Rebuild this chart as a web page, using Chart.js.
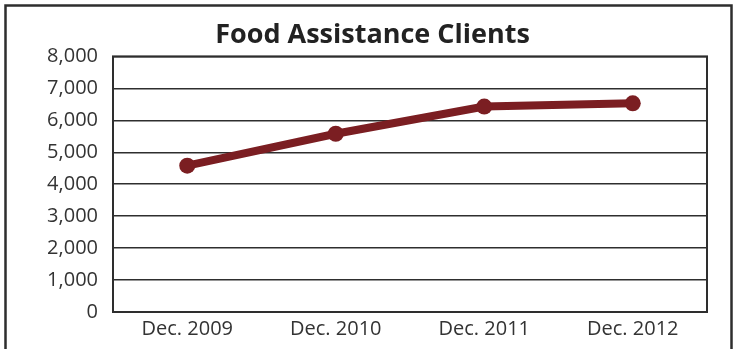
<!DOCTYPE html>
<html>
<head>
<meta charset="utf-8">
<script src="https://cdn.jsdelivr.net/npm/chart.js@4"></script>
<style>
  html, body { margin: 0; padding: 0; background: #fff; }
  #wrap { width: 735px; height: 349px; }
</style>
</head>
<body>
<div id="wrap"><canvas id="clientsChart"></canvas></div>
<script>
// Data
const periods = ['Dec. 2009', 'Dec. 2010', 'Dec. 2011', 'Dec. 2012'];
const clients = [4580, 5580, 6430, 6530];
const yTicks = [0, 1000, 2000, 3000, 4000, 5000, 6000, 7000, 8000];

const ink = '#2e2e2e';
const lineColor = '#7b1e22';

// outer frame + frame round the plot area
const framePlugin = {
  id: 'frames',
  beforeDraw: (chart) => {
    const c = chart.ctx;
    c.save();
    c.fillStyle = '#fff';
    c.fillRect(0, 0, chart.width, chart.height);
    c.strokeStyle = ink;
    c.lineWidth = 2.5;
    c.strokeRect(5.5, 5.5, 726, 400);
    c.restore();
  },
  afterDatasetsDraw: (chart) => {
    const a = chart.chartArea;
    const c = chart.ctx;
    c.save();
    c.strokeStyle = ink;
    c.lineWidth = 2;
    c.strokeRect(a.left, a.top, a.right - a.left, a.bottom - a.top);
    c.restore();
  }
};

const ctx = document.getElementById('clientsChart').getContext('2d');
const clientsChart = new Chart(ctx, {
  type: 'line',
  data: {
    labels: periods,
    datasets: [{
      label: 'Clients',
      data: clients,
      borderColor: lineColor,
      backgroundColor: lineColor,
      borderWidth: 8,
      pointRadius: 8,
      pointHoverRadius: 8,
      pointBackgroundColor: lineColor,
      pointBorderWidth: 0,
      tension: 0
    }]
  },
  options: {
    responsive: true,
    maintainAspectRatio: false,
    animation: false,
    layout: { padding: { left: 10, right: 0, top: 0, bottom: 0 } },
    plugins: {
      legend: { display: false },
      tooltip: { enabled: false },
      title: {
        display: true,
        text: 'Food Assistance Clients',
        color: '#222',
        font: { family: 'Open Sans', size: 27, weight: 'bold' },
        padding: { top: 19, bottom: 5 }
      }
    },
    scales: {
      x: {
        offset: true,
        grid: { display: false, drawTicks: false },
        border: { display: false },
        ticks: {
          color: '#333',
          font: { family: 'Open Sans', size: 20 },
          padding: 5,
          maxRotation: 0
        },
        afterFit: (scale) => { scale.height = 37; }
      },
      y: {
        min: 0,
        max: 8000,
        afterBuildTicks: (scale) => { scale.ticks = yTicks.map(v => ({ value: v })); },
        grid: { color: ink, lineWidth: 1.5, drawTicks: false },
        border: { display: false },
        ticks: {
          color: '#333',
          font: { family: 'Open Sans', size: 20 },
          padding: 15,
          callback: (v) => v.toLocaleString('en-US')
        },
        afterFit: (scale) => { scale.width = 103; }
      },
      // empty axis that only keeps the right margin
      yRight: {
        position: 'right',
        min: 0,
        max: 8000,
        grid: { display: false, drawTicks: false },
        border: { display: false },
        ticks: { display: false },
        afterFit: (scale) => { scale.width = 28; }
      }
    }
  },
  plugins: [framePlugin]
});
</script>
</body>
</html>
